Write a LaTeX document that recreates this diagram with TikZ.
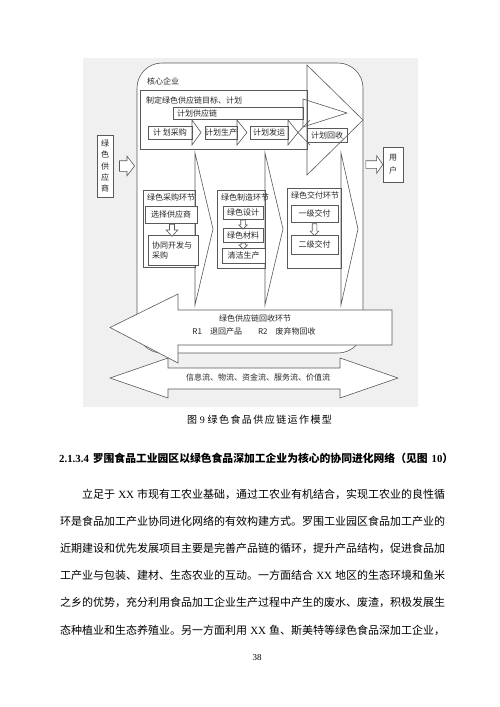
\documentclass[tikz,border=0pt]{standalone}
\usepackage{fontspec}
\setmainfont{Liberation Serif}
\newfontfamily\cjk{Noto Sans CJK SC}
\newfontfamily\latin{Liberation Serif}
\usepackage{tikz}
\usetikzlibrary{shapes.arrows,calc}
\XeTeXlinebreaklocale "zh"
\XeTeXlinebreakskip=0pt plus 1pt
\newcommand{\dfont}{\cjk\fontsize{8}{10}\selectfont}
\newcommand{\bfont}{\cjk\fontsize{11}{13}\selectfont}

\begin{document}
\begin{tikzpicture}[x=1pt,y=-1pt,
	shp/.style={draw=black!65,line width=0.6pt},
	box/.style={shp,fill=white,inner sep=0pt,font=\dfont,text=black!85},
	lbl/.style={font=\dfont,inner sep=0pt,text=black!85},
	hol/.style={single arrow,shp,fill=white,inner xsep=0pt},
	txt/.style={font=\bfont,inner sep=0pt,anchor=west}]
	\useasboundingbox (0,0) rectangle (500,707);
	\fill[white] (0,0) rectangle (500,707);
	\fill[black!6] (83,58) rectangle (418,407);
	\node[shp,fill=white,rounded corners=25pt,minimum width=226pt,minimum height=290pt,inner sep=0pt] (firm) at (250,208) {};
	\draw[shp] (140,90) rectangle (307,149);
	\draw[shp] (307,65) -- (363,120) -- (307,175) -- cycle;
	\draw[shp] (173,107) rectangle (303,119);
	\draw[shp] (303,99) -- (347,113) -- (303,127) -- cycle;
	\draw[shp] (148,126) rectangle (192,139);
	\draw[shp] (192,120) -- (201,132.5) -- (192,145) -- cycle;
	\draw[shp] (205,126) rectangle (237,139);
	\draw[shp] (237,120) -- (247,132.5) -- (237,145) -- cycle;
	\draw[shp] (250,126) rectangle (288,139);
	\draw[shp] (288,120) -- (298,132.5) -- (288,145) -- cycle;
	\draw[shp] (298,132.5) -- (310,120) (298,132.5) -- (310,145);
	\draw[shp] (307,128) rectangle (347,142);
	\draw[shp] (143,190) rectangle (195,267);
	\draw[shp] (195,153) -- (213,229) -- (195,305) -- cycle;
	\draw[shp] (217,190) rectangle (265,268);
	\draw[shp] (265,153) -- (283,229) -- (265,305) -- cycle;
	\draw[shp] (287,188) rectangle (341,268);
	\draw[shp] (341,153) -- (358,229) -- (341,305) -- cycle;
	\node[lbl,anchor=west] (core) at (147,81) {核心企业};
	\node[lbl,anchor=west] (goal) at (146,100) {制定绿色供应链目标、计划};
	\node[lbl,anchor=west] (chain) at (177,113) {计划供应链};
	\node[lbl] (buy) at (170,132.5) {计\ 划采购};
	\node[lbl] (prod) at (221,132.5) {计划生产};
	\node[lbl] (ship) at (269,132.5) {计划发运};
	\node[lbl] (back) at (327,135) {计划回收};
	\node[lbl,anchor=west] (buyst) at (147,197) {绿色采购环节};
	\node[lbl,anchor=west] (mkst) at (221,197) {绿色制造环节};
	\node[lbl,anchor=west] (dlst) at (291,195) {绿色交付环节};
	\node[box,minimum width=52pt,minimum height=17pt] (sel) at (171,214.5) {选择供应商};
	\node[box,minimum width=50pt,minimum height=30pt,align=left,text width=42pt] (codev) at (173,250) {协同开发与\\采购};
	\node[box,minimum width=40pt,minimum height=13pt] (dsg) at (243,212.5) {绿色设计};
	\node[box,minimum width=40pt,minimum height=14pt] (mat) at (243,235) {绿色材料};
	\node[box,minimum width=43pt,minimum height=15pt] (cln) at (243.5,255.5) {清洁生产};
	\node[box,minimum width=47pt,minimum height=17pt] (lv1) at (314.5,213.5) {一级交付};
	\node[box,minimum width=47pt,minimum height=19pt] (lv2) at (314.5,244.5) {二级交付};
	\node[hol,rotate=-90,minimum height=12pt,inner ysep=2.2pt,single arrow head extend=3.3pt,single arrow tip angle=85] (a1) at ($(sel.south)!.5!(codev.north)$) {};
	\node[hol,rotate=-90,minimum height=9pt,inner ysep=2pt,single arrow head extend=2pt,single arrow tip angle=90] (a2) at ($(dsg.south)!.5!(mat.north)$) {};
	\node[hol,rotate=-90,minimum height=6pt,inner ysep=2pt,single arrow head extend=2pt,single arrow tip angle=90] (a3) at ($(mat.south)!.5!(cln.north)$) {};
	\node[hol,rotate=-90,minimum height=12pt,inner ysep=2pt,single arrow head extend=2pt,single arrow tip angle=85] (a4) at ($(lv1.south)!.5!(lv2.north)$) {};
	\draw[shp,fill=white] (392,310) -- (178,310) -- (178,294) -- (110,327.5) -- (178,363) -- (178,345) -- (392,345) -- cycle;
	\node[lbl] (rec) at (255,318) {绿色供应链回收环节};
	\node[lbl] (rec1) at (254,331) {R1\quad 退回产品\qquad R2\quad 废弃物回收};
	\draw[shp,fill=white] (110,378) -- (168,358) -- (168,368) -- (340,368) -- (340,358) -- (398,378) -- (340,398) -- (340,389) -- (168,389) -- (168,398) -- cycle;
	\node[lbl] (flow) at (258,377) {信息流、物流、资金流、服务流、价值流};
	\node[box,minimum width=16pt,minimum height=62pt,align=center,font={\cjk\fontsize{8}{11.3}\selectfont}] (sup) at (105,166) {绿\\色\\供\\应\\商};
	\node[box,minimum width=20pt,minimum height=35pt,align=center,font={\cjk\fontsize{8}{13}\selectfont}] (usr) at (393,164.5) {用\\户};
	\node[hol,minimum height=15pt,inner ysep=5pt,single arrow head extend=4.5pt,single arrow tip angle=105] (supin) at ($(sup.east)!.5!(sup.east -| firm.west)$) {};
	\node[hol,minimum height=17pt,inner ysep=3.5pt,single arrow head extend=5pt,single arrow tip angle=110] (usrin) at ($(usr.west -| firm.east)!.5!(usr.west)$) {};
	\node[inner sep=0pt,font={\cjk\fontsize{10}{12}\selectfont}] (cap) at (259.5,420) {\makebox[145pt][s]{图\hfill\hfill{\latin 9}\hfill\hfill 绿\hfill 色\hfill 食\hfill 品\hfill 供\hfill 应\hfill 链\hfill 运\hfill 作\hfill 模\hfill 型}};
	\node[txt,font={\cjk\bfseries\fontsize{10.8}{13}\selectfont}] (head) at (59,458) {\makebox[394pt][s]{{\latin\bfseries 2.1.3.4} 罗围食品工业园区以绿色食品深加工企业为核心的协同进化网络（见图 {\latin\bfseries 10}）}};
	\node[txt] (l1) at (82,494) {\makebox[363pt][s]{立足于 {\latin XX} 市现有工农业基础，通过工农业有机结合，实现工农业的良性循}};
	\node[txt] (l2) at (60,521.2) {\makebox[385pt][s]{环是食品加工产业协同进化网络的有效构建方式。罗围工业园区食品加工产业的}};
	\node[txt] (l3) at (60,548.4) {\makebox[385pt][s]{近期建设和优先发展项目主要是完善产品链的循环，提升产品结构，促进食品加}};
	\node[txt] (l4) at (60,575.6) {\makebox[385pt][s]{工产业与包装、建材、生态农业的互动。一方面结合 {\latin XX} 地区的生态环境和鱼米}};
	\node[txt] (l5) at (60,602.8) {\makebox[385pt][s]{之乡的优势，充分利用食品加工企业生产过程中产生的废水、废渣，积极发展生}};
	\node[txt] (l6) at (60,630) {\makebox[385pt][s]{态种植业和生态养殖业。另一方面利用 {\latin XX} 鱼、斯美特等绿色食品深加工企业，}};
	\node[inner sep=0pt,font={\latin\fontsize{9}{10}\selectfont}] (pg) at (257,658) {38};
\end{tikzpicture}
\end{document}
